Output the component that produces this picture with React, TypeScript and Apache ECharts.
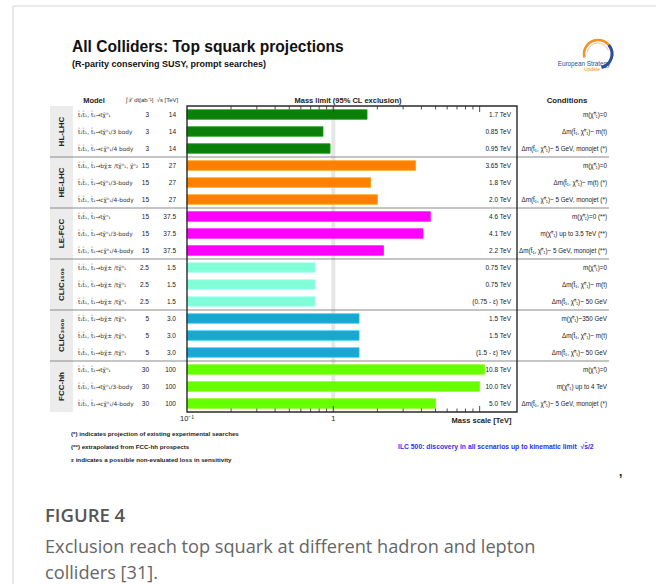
import React, { useEffect, useRef } from 'react';
import * as echarts from 'echarts';

// ---------- data ----------
const groups = ['HL-LHC', 'HE-LHC', 'LE-FCC', 'CLIC₁₅₀₀', 'CLIC₃₀₀₀', 'FCC-hh'];
const groupColors = ['#0a800a', '#ff8000', '#ff00ff', '#80ffd6', '#1aa6cf', '#66ff00'];

const P = 't\u0303\u2081t\u0303\u2081, t\u0303\u2081\u2192';
const N1 = 'χ\u0303\u2070\u2081';
const N2 = 'χ\u0303\u2070\u2082';
const C1 = 'χ\u0303\u00b1';

const models = [
  P + 't' + N1, P + 't' + N1 + '/3 body', P + 'c' + N1 + '/4 body',
  P + 'b' + C1 + ' /t' + N1 + ', ' + N2, P + 't' + N1 + '/3-body', P + 'c' + N1 + '/4-body',
  P + 't' + N1, P + 't' + N1 + '/3-body', P + 'c' + N1 + '/4-body',
  P + 'b' + C1 + ' /t' + N1, P + 'b' + C1 + ' /t' + N1, P + 'b' + C1 + ' /t' + N1,
  P + 'b' + C1 + ' /t' + N1, P + 'b' + C1 + ' /t' + N1, P + 'b' + C1 + ' /t' + N1,
  P + 't' + N1, P + 't' + N1 + '/3-body', P + 'c' + N1 + '/4-body',
];
const lumi = ['3', '3', '3', '15', '15', '15', '15', '15', '15', '2.5', '2.5', '2.5', '5', '5', '5', '30', '30', '30'];
const sqrtS = ['14', '14', '14', '27', '27', '27', '37.5', '37.5', '37.5', '1.5', '1.5', '1.5', '3.0', '3.0', '3.0', '100', '100', '100'];
const massLimits = [1.7, 0.85, 0.95, 3.65, 1.8, 2.0, 4.6, 4.1, 2.2, 0.75, 0.75, 0.75, 1.5, 1.5, 1.5, 10.8, 10.0, 5.0];
const limitLabels = [
  '1.7 TeV', '0.85 TeV', '0.95 TeV', '3.65 TeV', '1.8 TeV', '2.0 TeV', '4.6 TeV', '4.1 TeV', '2.2 TeV',
  '0.75 TeV', '0.75 TeV', '(0.75 - ε) TeV', '1.5 TeV', '1.5 TeV', '(1.5 - ε) TeV', '10.8 TeV', '10.0 TeV', '5.0 TeV',
];
const DM = 'Δm(t\u0303\u2081, ' + N1 + ')~ ';
const M0 = 'm(' + N1 + ')';
const conditions = [
  M0 + '=0', DM + 'm(t)', DM + '5 GeV, monojet (*)',
  M0 + '=0', DM + 'm(t) (*)', DM + '5 GeV, monojet (*)',
  M0 + '=0 (**)', M0 + ' up to 3.5 TeV (**)', DM + '5 GeV, monojet (**)',
  M0 + '=0', DM + 'm(t)', DM + '50 GeV',
  M0 + '~350 GeV', DM + 'm(t)', DM + '50 GeV',
  M0 + '=0', M0 + ' up to 4 TeV', DM + '5 GeV, monojet (*)',
];
const minorTicks = [0.2, 0.3, 0.4, 0.5, 0.6, 0.7, 0.8, 0.9, 2, 3, 4, 5, 6, 7, 8, 9];
const majorTicks = [1, 10];
const xMin = 0.1;
const xMax = 18;
const rowIds = massLimits.map((_, i) => String(i));

// ---------- helpers ----------
const FONT = '"Liberation Sans", Arial, Helvetica, sans-serif';
const MATH = '"DejaVu Sans", "Liberation Sans", sans-serif';
const CAP = '"Open Sans", sans-serif';
const fnt = (size: number, weight = 'normal', family = FONT) => `${weight} ${size}px ${family}`;
const txt = (x: number, y: number, text: string, size: number, o: any = {}) => ({
  type: 'text',
  x,
  y,
  silent: true,
  rotation: o.rotation || 0,
  style: {
    text,
    font: fnt(size, o.weight || 'normal', o.family || FONT),
    fill: o.fill || '#222',
    textAlign: o.align || 'left',
    align: o.align || 'left',
    textVerticalAlign: 'middle',
    verticalAlign: 'middle',
    rich: o.rich,
  },
});

export default function App() {
  const ref = useRef<HTMLDivElement>(null);
  useEffect(() => {
    if (!ref.current) return;
    const chart = echarts.init(ref.current, undefined, { renderer: 'svg' });

    const bandSeries = {
      type: 'custom',
      z: 1,
      silent: true,
      clip: false,
      data: [[1, 0]],
      encode: { x: 0, y: 1 },
      renderItem: (params: any, api: any) => {
        const cs = params.coordSys;
        const x = api.coord([api.value(0), 0])[0];
        return {
          type: 'rect',
          shape: { x: x - 2, y: cs.y, width: 4, height: cs.height },
          style: { fill: '#e6e6e6' },
        };
      },
    };

    const barSeries = {
      type: 'custom',
      z: 2,
      silent: true,
      clip: false,
      data: massLimits.map((v, i) => [v, i]),
      encode: { x: 0, y: 1 },
      renderItem: (params: any, api: any) => {
        const i = params.dataIndex;
        const start = api.coord([xMin, i]);
        const end = api.coord([api.value(0), i]);
        const h = api.size([0, 1])[1] * 0.56;
        const c = groupColors[Math.floor(i / 3)];
        return {
          type: 'rect',
          shape: { x: start[0], y: start[1] - h / 2, width: end[0] - start[0], height: h },
          style: { fill: c, stroke: echarts.color.lift(c, -0.25), lineWidth: 0.8 },
        };
      },
    };

    const tickData = [...minorTicks.map((t) => [t, 0]), ...majorTicks.map((t) => [t, 1])];
    const tickSeries = {
      type: 'custom',
      z: 4,
      silent: true,
      clip: false,
      data: tickData,
      encode: { x: 0 },
      renderItem: (params: any, api: any) => {
        const cs = params.coordSys;
        const x = api.coord([api.value(0), 0])[0];
        const len = api.value(1) === 1 ? 6 : 3.5;
        const st = { stroke: '#222', lineWidth: 0.8 };
        return {
          type: 'group',
          children: [
            { type: 'line', shape: { x1: x, y1: cs.y, x2: x, y2: cs.y + len }, style: st },
            { type: 'line', shape: { x1: x, y1: cs.y + cs.height, x2: x, y2: cs.y + cs.height - len }, style: st },
          ],
        };
      },
    };

    const tableSeries = {
      type: 'custom',
      z: 3,
      silent: true,
      clip: false,
      data: massLimits.map((_, i) => [xMin, i]),
      encode: { x: 0, y: 1 },
      renderItem: (params: any, api: any) => {
        const i = params.dataIndex;
        const y = api.coord([xMin, i])[1];
        const band = api.size([0, 1])[1];
        const children: any[] = [];
        if (i % 3 === 0) {
          const g = i / 3;
          const top = y - band / 2;
          children.push({
            type: 'rect',
            shape: { x: 50, y: top, width: 23, height: band * 3 },
            style: { fill: '#ececec' },
          });
          children.push(txt(61.5, top + band * 1.5, groups[g], 8, { weight: 'bold', align: 'center', rotation: Math.PI / 2 }));
          if (g > 0) {
            children.push({
              type: 'line',
              shape: { x1: 50, y1: top, x2: 609, y2: top },
              style: { stroke: '#8a8a8a', lineWidth: 1 },
            });
          }
        }
        children.push(txt(78, y, models[i], 5.8, { fill: '#333', family: MATH }));
        children.push(txt(149, y, lumi[i], 6.5, { align: 'right' }));
        children.push(txt(176, y, sqrtS[i], 6.5, { align: 'right' }));
        children.push(txt(511, y, limitLabels[i], 6.5, { align: 'right' }));
        children.push(txt(607, y, conditions[i], 6.3, { align: 'right' }));
        return { type: 'group', children };
      },
    };

    const frameSeries = {
      type: 'custom',
      z: 5,
      silent: true,
      clip: false,
      data: [[xMin, 0]],
      encode: { x: 0, y: 1 },
      renderItem: (params: any) => {
        const cs = params.coordSys;
        return {
          type: 'rect',
          shape: { x: cs.x, y: cs.y, width: cs.width, height: cs.height },
          style: { fill: 'none', stroke: '#2a2a2a', lineWidth: 1.4 },
        };
      },
    };

    const graphics: any[] = [
      { type: 'line', shape: { x1: 13, y1: 6, x2: 660, y2: 6 }, style: { stroke: '#d4d4d4', lineWidth: 1 } },
      { type: 'line', shape: { x1: 13, y1: 6, x2: 13, y2: 590 }, style: { stroke: '#d4d4d4', lineWidth: 1 } },
      txt(72, 46.5, 'All Colliders: Top squark projections', 15.6, { weight: 'bold', fill: '#111' }),
      txt(72, 63.5, '(R-parity conserving SUSY, prompt searches)', 9, { weight: 'bold', fill: '#111' }),
      // logo
      {
        type: 'arc',
        shape: { cx: 598, cy: 54, r: 14, startAngle: Math.PI * 0.92, endAngle: Math.PI * 2.05, clockwise: true },
        style: { stroke: '#f5902a', lineWidth: 2.6, fill: 'none' },
      },
      {
        type: 'arc',
        shape: { cx: 598, cy: 54, r: 11, startAngle: Math.PI * 1.05, endAngle: Math.PI * 1.9, clockwise: true },
        style: { stroke: '#f9c48a', lineWidth: 1, fill: 'none' },
      },
      {
        type: 'arc',
        shape: { cx: 598, cy: 54, r: 14, startAngle: -Math.PI * 0.22, endAngle: Math.PI * 0.42, clockwise: true },
        style: { stroke: '#2d4e9c', lineWidth: 3, fill: 'none' },
      },
      txt(584, 63, 'European Strategy', 6.3, { align: 'center', fill: '#2d4e9c' }),
      txt(592, 69, 'Update', 5, { align: 'center', fill: '#f5902a' }),
      // headers
      txt(94, 100, 'Model', 7.5, { weight: 'bold', align: 'center' }),
      txt(126, 99.5, '∫ℒ dt[ab⁻¹]  √s [TeV]', 6, { fill: '#333' }),
      txt(348, 100, 'Mass limit (95% CL exclusion)', 7.5, { weight: 'bold', align: 'center' }),
      txt(567, 100, 'Conditions', 7.8, { weight: 'bold', align: 'center' }),
      txt(511.5, 420, 'Mass scale [TeV]', 7.5, { weight: 'bold', align: 'right' }),
      // footnotes
      txt(71, 433, '(*) indicates projection of existing experimental searches', 6.2, { weight: 'bold' }),
      txt(71, 446.5, '(**) extrapolated from FCC-hh prospects', 6.2, { weight: 'bold' }),
      txt(71, 459.5, 'ε indicates a possible non-evaluated loss in sensitivity', 6.2, { weight: 'bold' }),
      txt(398, 446.5, 'ILC 500: discovery in all scenarios up to kinematic limit  √s̄/2', 6.8, { weight: 'bold', fill: '#2f2ff5' }),
      txt(619, 472, ',', 12, { weight: 'bold', fill: '#222' }),
      // caption
      txt(45, 514, 'FIGURE 4', 18.5, { weight: '600', fill: '#555', family: CAP }),
      txt(45, 546, 'Exclusion reach top squark at different hadron and lepton', 18.2, { fill: '#666', family: CAP }),
      txt(45, 572, '{a|colliders [}{b|31}{a|].}', 18.2, {
        fill: '#666',
        family: CAP,
        rich: {
          a: { fontFamily: CAP, fontSize: 18.2, color: '#666' },
          b: { fontFamily: CAP, fontSize: 18.2, color: '#5a5abf' },
        },
      }),
    ];

    chart.setOption({
      animation: false,
      grid: { left: 187, top: 106, width: 330, height: 306, containLabel: false, outerBoundsMode: 'none' },
      xAxis: {
        type: 'log',
        logBase: 10,
        min: xMin,
        max: xMax,
        axisLine: { show: false },
        axisTick: { show: false },
        splitLine: { show: false },
        minorTick: { show: false },
        axisLabel: {
          margin: 2,
          fontSize: 7.5,
          fontFamily: FONT,
          color: '#222',
          showMinLabel: true,
          showMaxLabel: false,
          formatter: (v: number) => (Math.abs(v - 0.1) < 1e-9 ? '10⁻¹' : Math.abs(v - 1) < 1e-9 ? '1' : ''),
        },
      },
      yAxis: { type: 'category', data: rowIds, inverse: true, show: false },
      series: [bandSeries, barSeries, tableSeries, tickSeries, frameSeries],
      graphic: { elements: graphics },
    } as any);

    return () => chart.dispose();
  }, []);

  return <div ref={ref} style={{ position: 'absolute', left: 0, top: 0, width: 656, height: 584, background: '#fff' }} />;
}
